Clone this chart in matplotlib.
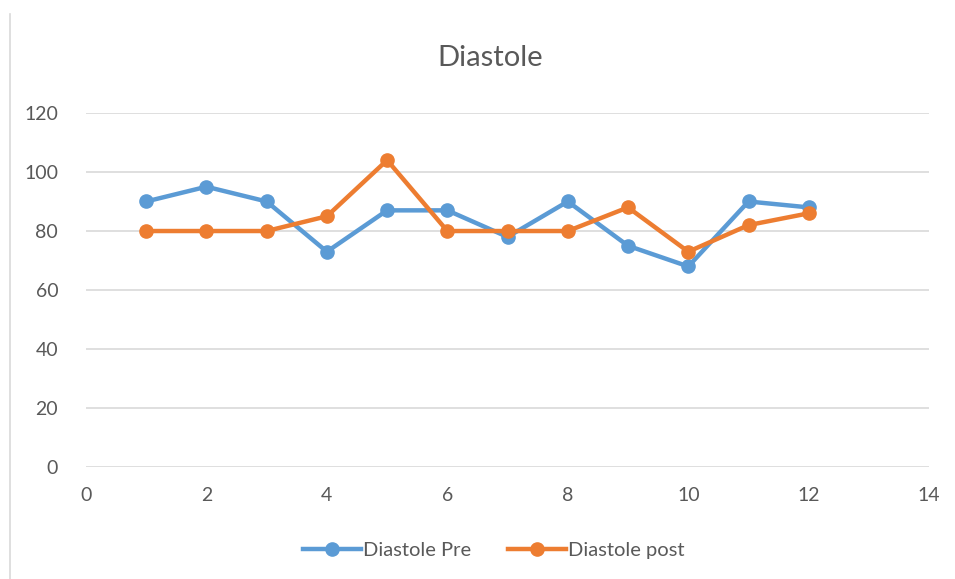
#!/usr/bin/env python3

import matplotlib
matplotlib.use('Agg')
import matplotlib.pyplot as plt
from matplotlib.lines import Line2D

x = [1, 2, 3, 4, 5, 6, 7, 8, 9, 10, 11, 12]
pre = [90, 95, 90, 73, 87, 87, 78, 90, 75, 68, 90, 88]
post = [80, 80, 80, 85, 104, 80, 80, 80, 88, 73, 82, 86]
xticks = [0, 2, 4, 6, 8, 10, 12, 14]
yticks = [0, 20, 40, 60, 80, 100, 120]

plt.rcParams['font.family'] = ['Lato', 'DejaVu Sans']

fig = plt.figure(figsize=(9.55, 5.79), dpi=100)
ax = fig.add_axes([0.090, 0.193, 0.883, 0.612])

ax.plot(x, pre, color='#5B9BD5', lw=3.2, marker='o', ms=9.5, label='Diastole Pre', zorder=3)
ax.plot(x, post, color='#ED7D31', lw=3.2, marker='o', ms=9.5, label='Diastole post', zorder=4)

ax.set_xlim(0, 14)
ax.set_ylim(0, 120)
ax.set_xticks(xticks)
ax.set_yticks(yticks)
ax.grid(axis='y', color='#d9d9d9', lw=1.2)
ax.set_axisbelow(True)
for s in ax.spines.values():
    s.set_visible(False)
ax.tick_params(length=0, labelsize=14, colors='#595959')
ax.tick_params(axis='x', pad=14)
ax.tick_params(axis='y', pad=20)

fig.text(0.513, 0.90, 'Diastole', ha='center', va='center', fontsize=21, color='#595959')

ax.legend(loc='center', bbox_to_anchor=(0.517, 0.049), bbox_transform=fig.transFigure,
          ncol=2, frameon=False, fontsize=14.5, labelcolor='#595959',
          handlelength=2.9, columnspacing=1.8, handletextpad=0.1)

fig.add_artist(Line2D([0.0105, 0.0105], [0.0, 0.975], color='#d9d9d9', lw=1.2,
                      transform=fig.transFigure))

plt.savefig('out.png', dpi=100)
